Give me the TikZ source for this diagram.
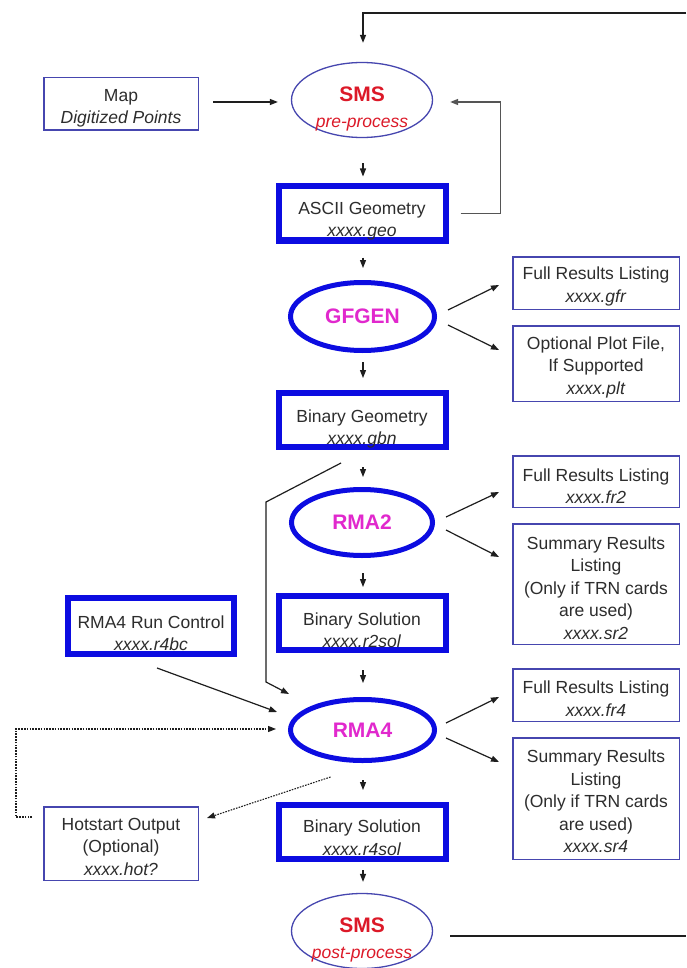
\documentclass[tikz,border=0pt]{standalone}
\usepackage{fontspec}
\setmainfont{Liberation Sans}
\usetikzlibrary{shapes.geometric,arrows.meta,calc}
\definecolor{thickblue}{RGB}{12,12,225}
\definecolor{thinblue}{RGB}{70,70,175}
\definecolor{smsred}{RGB}{220,25,40}
\definecolor{mag}{RGB}{225,40,205}
\definecolor{txtgray}{RGB}{45,45,45}
\definecolor{lin}{RGB}{30,30,30}
\definecolor{fbgray}{RGB}{85,85,85}
\begin{document}
\begin{tikzpicture}[x=1pt,y=-1pt,
  base/.style={font=\fontsize{17.5}{22.5}\selectfont, text=txtgray, align=center},
  thinbox/.style={rectangle, draw=thinblue, line width=1.5pt, inner sep=0pt, minimum width=166.5pt},
  thickbox/.style={rectangle, draw=thickblue, line width=6pt, inner sep=0pt, minimum width=167pt, minimum height=54pt},
  boxtext/.style={base, inner sep=0pt},
  thinell/.style={ellipse, draw=thinblue, line width=1.3pt, inner sep=0pt, minimum width=141pt, minimum height=75pt},
  thickell/.style={ellipse, draw=thickblue, line width=5pt, inner sep=0pt, font=\fontsize{21}{24}\selectfont\bfseries, text=mag},
  smstext/.style={align=center, text=smsred, inner sep=0pt, font=\fontsize{17.5}{26}\selectfont},
  arr/.style={draw=lin, line width=1.2pt, -{Triangle[length=8pt,width=6pt]}},
  fbarr/.style={draw=fbgray, line width=1.4pt, -{Triangle[length=8pt,width=6pt]}},
  dotarr/.style={draw=lin, line width=1.1pt, dash pattern=on 1.6pt off 1.2pt, -{Triangle[length=8pt,width=6pt]}},
  plain/.style={draw=lin, line width=1.3pt}
]
\fill[white] (0,0) rectangle (686,968);
\useasboundingbox (0,0) rectangle (686,968);

% ---- main column ----
\node[thinell] (smspre) at (362,100) {};
\node[smstext] (smsprt) at (362,108.5) {{\fontsize{21}{26}\selectfont\bfseries SMS}\\\textit{pre-process}};

\node[thinbox, minimum width=154.5pt, minimum height=52.5pt] (map) at (121,104) {};
\node[boxtext] (mapt) at ($(map)+(0,4.5)$) {Map\\\textit{Digitized Points}};

\node[thickbox] (ascii) at (362,213.5) {};
\node[boxtext] (asciit) at (362,221) {ASCII Geometry\\\textit{xxxx.geo}};

\node[thickell, minimum width=144pt, minimum height=68pt] (gfgen) at (362.5,316.5) {GFGEN};

\node[thickbox] (bg) at (362,420) {};
\node[boxtext] (bgt) at (362,429) {Binary Geometry\\\textit{xxxx.gbn}};

\node[thickell, minimum width=141pt, minimum height=66pt] (rma2) at (362,522.5) {RMA2};

\node[thickbox] (bs2) at (362,623) {};
\node[boxtext] (bs2t) at (362,630) {Binary Solution\\\textit{xxxx.r2sol}};

\node[thickbox, minimum width=166pt, minimum height=56pt] (rc) at (151,626) {};
\node[boxtext] (rct) at (151,633) {RMA4 Run Control\\\textit{xxxx.r4bc}};

\node[thickell, minimum width=144pt, minimum height=61pt] (rma4) at (362.5,730) {RMA4};

\node[thickbox] (bs4) at (362,832) {};
\node[boxtext] (bs4t) at (362,837.5) {Binary Solution\\\textit{xxxx.r4sol}};

\node[thinbox, minimum width=154.5pt, minimum height=73.5pt] (hot) at (121,843.5) {};
\node[boxtext] (hott) at ($(hot)+(0,3)$) {Hotstart Output\\(Optional)\\\textit{xxxx.hot?}};

\node[thinell] (smspost) at (362,931) {};
\node[smstext] (smspot) at (362,940) {{\fontsize{21}{26}\selectfont\bfseries SMS}\\\textit{post-process}};

% ---- right column ----
\node[thinbox, minimum height=52.5pt] (gfr) at (596,283) {};
\node[boxtext] (gfrt) at ($(gfr)+(0,3.5)$) {Full Results Listing\\\textit{xxxx.gfr}};
\node[thinbox, minimum height=75.5pt] (plt) at (596,363.5) {};
\node[boxtext] (pltt) at ($(plt)+(0,3.5)$) {Optional Plot File,\\If Supported\\\textit{xxxx.plt}};
\node[thinbox, minimum height=51.5pt] (fr2) at (596,481.5) {};
\node[boxtext] (fr2t) at ($(fr2)+(0,4.5)$) {Full Results Listing\\\textit{xxxx.fr2}};
\node[thinbox, minimum height=120.5pt] (sr2) at (596,584) {};
\node[boxtext] (sr2t) at ($(sr2)+(0,4)$) {Summary Results\\Listing\\(Only if TRN cards\\are used)\\\textit{xxxx.sr2}};
\node[thinbox, minimum height=52.5pt] (fr4) at (596,695) {};
\node[boxtext] (fr4t) at ($(fr4)+(0,3.5)$) {Full Results Listing\\\textit{xxxx.fr4}};
\node[thinbox, minimum height=121.5pt] (sr4) at (596,798.5) {};
\node[boxtext] (sr4t) at ($(sr4)+(0,3)$) {Summary Results\\Listing\\(Only if TRN cards\\are used)\\\textit{xxxx.sr4}};

% ---- coordinates for free ends ----
\coordinate (topright) at (686,13);
\coordinate (toptip) at ($(smspre.north)+(1,-19)$);
\coordinate (botright) at (686,936);
\coordinate (botstart) at ($(smspost.east)+(17,5)$);
\coordinate (bend1) at ($(bg.south)+(-21,13)$);
\coordinate (bend2) at (266,502);
\coordinate (bend3) at (266,682);
\coordinate (rma4in) at (289,694);
\coordinate (dotA) at ($(hot.west)+(-11,-26.5)$);
\coordinate (dotB) at (16,817);

% ---- connectors ----
\draw[arr] (topright) -| (toptip);
\draw[plain] (botstart) -- (botright);
\draw[arr] ($(map.east)+(14,-2)$) -- ($(smspre.west)+(-13,2)$);
\draw[fbarr] ($(ascii.east)+(12,0)$) -- ++(40,0) |- ($(smspre.east)+(17,2)$);

\draw[arr] ($(smspre.south)+(1,25)$) -- ($(ascii.north)+(1,-7)$);
\draw[arr] ($(ascii.south)+(1,14)$) -- ($(gfgen.north)+(0.5,-12)$);
\draw[arr] ($(gfgen.south)+(0.5,9)$) -- ($(bg.north)+(1,-12)$);
\draw[arr] ($(bg.south)+(1,17)$) -- ($(rma2.north)+(1,-10)$);
\draw[arr] ($(rma2.south)+(1,15)$) -- ($(bs2.north)+(1,-6)$);
\draw[arr] ($(bs2.south)+(1,17)$) -- ($(rma4.north)+(0.5,-14)$);
\draw[arr] ($(rma4.south)+(0.5,17)$) -- ($(bs4.north)+(1,-12)$);
\draw[arr] ($(bs4.south)+(1,8)$) -- ($(smspost.north)+(1,-11)$);

\draw[arr] (bend1) -- (bend2) -- (bend3) -- (rma4in);
\draw[arr] ($(rc.south)+(6,11)$) -- ($(rma4.west)+(-11,-18)$);
\draw[dotarr] (dotA) -- (dotB) |- ($(rma4.west)+(-12,-1)$);
\draw[dotarr] ($(rma4.south)+(-32,14)$) -- ($(hot.east)+(8,-25.5)$);

\draw[arr] ($(gfgen.east)+(11,-6.5)$) -- ($(gfr.west)+(-13,2)$);
\draw[arr] ($(gfgen.east)+(11,8.5)$) -- ($(plt.west)+(-13,-13.5)$);
\draw[arr] ($(rma2.east)+(11,-5.5)$) -- ($(fr2.west)+(-13,10.5)$);
\draw[arr] ($(rma2.east)+(11,7.5)$) -- ($(sr2.west)+(-13,-27)$);
\draw[arr] ($(rma4.east)+(9,-7)$) -- ($(fr4.west)+(-13,2)$);
\draw[arr] ($(rma4.east)+(9,8)$) -- ($(sr4.west)+(-13,-36.5)$);
\end{tikzpicture}
\end{document}
